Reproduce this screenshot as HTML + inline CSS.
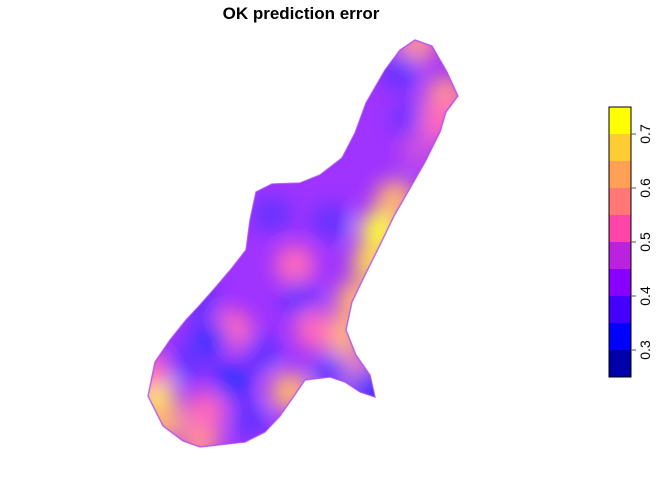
<!DOCTYPE html>
<html><head><meta charset="utf-8"><style>
body{margin:0;background:#fff;}
svg{display:block;font-family:"Liberation Sans",sans-serif;}
</style></head><body>
<svg id="chart" width="672" height="480">
<defs>
<clipPath id="clip"><polygon id="shape" points=""/></clipPath>
<filter id="blur" x="-50%" y="-50%" width="200%" height="200%"><feGaussianBlur stdDeviation="10"/></filter>
<filter id="blur2" x="-10%" y="-10%" width="120%" height="120%"><feGaussianBlur stdDeviation="5"/></filter>
</defs>
<text x="301" y="19" text-anchor="middle" font-size="17" font-weight="bold">OK prediction error</text>
<g id="map" clip-path="url(#clip)"></g>
<polygon id="outline" fill="none" stroke="#aa44ee" stroke-width="1.5" stroke-opacity="0.7"/>
<g id="legend"></g>
</svg>
<script>
const ns="http://www.w3.org/2000/svg";
const breaks=[0.25,0.30,0.35,0.40,0.45,0.50,0.55,0.60,0.65,0.70,0.75];
const palette=["#0000AA","#0000FF","#4400FF","#8800FF","#BB22DD","#FF44AA","#FF7777","#FFA055","#FFCC33","#FFFF00"];
const tickValues=[0.3,0.4,0.5,0.6,0.7];
const tickLabels=["0.3","0.4","0.5","0.6","0.7"];
const baseValue=0.41;
const spotX=[380,372,356,342,155,163,200,290,352,446,416,295,232,205,150,210,232,300,262,400,412,330,272,186,250,370,330,395,315,200,420,440];
const spotY=[230,262,300,335,395,420,440,392,372,96,45,265,330,412,372,340,382,300,352,72,122,222,215,362,420,387,372,200,330,300,150,120];
const spotV=[0.73,0.66,0.62,0.6,0.72,0.62,0.56,0.6,0.56,0.56,0.55,0.5,0.5,0.5,0.53,0.33,0.34,0.36,0.35,0.36,0.35,0.35,0.36,0.35,0.35,0.31,0.36,0.6,0.5,0.37,0.47,0.5];
const outline=[[415,40],[432,46],[447,72],[458,96],[446,112],[440,132],[425,162],[405,197],[394,216],[380,245],[365,275],[352,302],[346,330],[356,355],[370,375],[375,397],[360,392],[345,382],[330,377],[305,380],[294,396],[280,416],[265,432],[245,442],[200,447],[183,441],[163,426],[148,396],[155,362],[170,340],[186,320],[200,305],[215,288],[232,268],[246,250],[250,220],[256,192],[272,184],[300,183],[320,175],[342,158],[355,133],[366,103],[385,70],[400,50]];
const lx=609,lw=22,ly0=377,lyScale=540;
function yL(v){return ly0-(v-breaks[0])*lyScale;}
function colorOf(v){for(let i=0;i<palette.length;i++){if(v<breaks[i+1])return palette[i];}return palette[palette.length-1];}
const pts=outline.map(p=>p.join(",")).join(" ");
document.getElementById("shape").setAttribute("points",pts);
document.getElementById("outline").setAttribute("points",pts);
const map=document.getElementById("map");
const bg=document.createElementNS(ns,"rect");
bg.setAttribute("x",140);bg.setAttribute("y",30);bg.setAttribute("width",330);bg.setAttribute("height",430);
bg.setAttribute("fill",colorOf(baseValue));


map.appendChild(bg);
const g=document.createElementNS(ns,"g");g.setAttribute("filter","url(#blur)");map.appendChild(g);
for(let i=0;i<spotX.length;i++){
 const c=document.createElementNS(ns,"circle");
 c.setAttribute("cx",spotX[i]);c.setAttribute("cy",spotY[i]);c.setAttribute("r",20);
 c.setAttribute("fill",colorOf(spotV[i]));
 
 
 g.appendChild(c);
}
const wash=document.createElementNS(ns,"rect");
wash.setAttribute("x",140);wash.setAttribute("y",30);wash.setAttribute("width",330);wash.setAttribute("height",430);
wash.setAttribute("fill","#fff");wash.setAttribute("opacity","0.2");


map.appendChild(wash);
const leg=document.getElementById("legend");
for(let i=0;i<palette.length;i++){
 const r=document.createElementNS(ns,"rect");
 r.setAttribute("x",lx);r.setAttribute("y",yL(breaks[i+1]));r.setAttribute("width",lw);r.setAttribute("height",yL(breaks[i])-yL(breaks[i+1]));
 r.setAttribute("fill",palette[i]);
 
 
 leg.appendChild(r);
}
const box=document.createElementNS(ns,"rect");
box.setAttribute("x",lx);box.setAttribute("y",yL(breaks[breaks.length-1]));box.setAttribute("width",lw);box.setAttribute("height",yL(breaks[0])-yL(breaks[breaks.length-1]));
box.setAttribute("fill","none");box.setAttribute("stroke","#000");


leg.appendChild(box);
for(let i=0;i<tickValues.length;i++){
 const y=yL(tickValues[i]);
 const t=document.createElementNS(ns,"line");
 t.setAttribute("x1",lx+lw);t.setAttribute("x2",lx+lw+5);t.setAttribute("y1",y);t.setAttribute("y2",y);t.setAttribute("stroke","#555");
 
 
 leg.appendChild(t);
 const tx=document.createElementNS(ns,"text");
 tx.setAttribute("transform","translate("+(lx+lw+19)+","+y+") rotate(-90)");
 tx.setAttribute("text-anchor","middle");tx.setAttribute("font-size","14");
 tx.textContent=tickLabels[i];
 
 
 leg.appendChild(tx);
}
</script>
</body></html>
